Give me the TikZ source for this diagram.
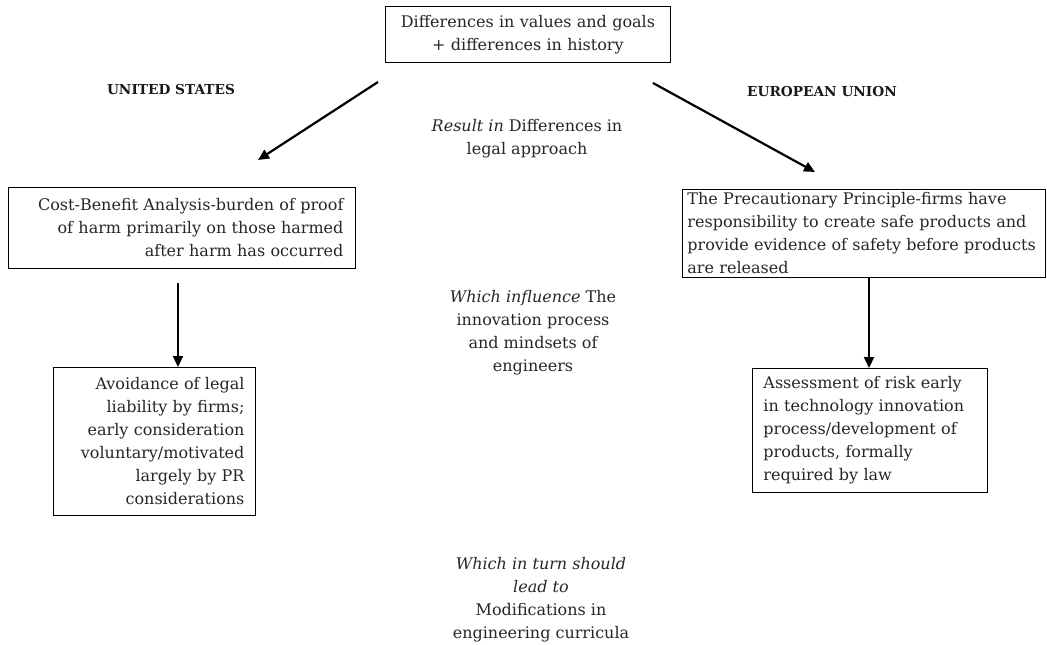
\documentclass[tikz,border=0pt]{standalone}
\usepackage{fontspec}
\setmainfont{DejaVu Serif}
\usetikzlibrary{arrows.meta}
\begin{document}
\begin{tikzpicture}[x=1pt,y=-1pt,
  txt/.style={font=\fontsize{16}{23}\selectfont, inner sep=0pt, text=black!85},
  box/.style={txt, draw=black, line width=0.9pt, anchor=north west},
  head/.style={font=\fontsize{13.7}{16}\selectfont\bfseries, inner sep=0pt, text=black!90},
  arr/.style={line width=2.2pt, -{Triangle[length=11pt,width=10pt]}},
]
\useasboundingbox (0,0) rectangle (1047,645);

% top box: shared origin
\node[box, align=center, minimum width=285pt, minimum height=56pt,
      text width=273pt, inner xsep=6pt] (top) at (385,6)
  {Differences in values and goals\\+ differences in history};

% column headers
\node[head] (us) at (171,90) {UNITED STATES};
\node[head] (eu) at (822,92) {EUROPEAN UNION};

% legal approach boxes
\node[box, align=right, minimum width=347pt, minimum height=81pt,
      text width=323pt, inner xsep=12pt] (lb1) at (8,187)
  {Cost-Benefit Analysis-burden of proof\\of harm primarily on those harmed\\after harm has occurred};
\node[box, align=left, minimum width=363pt, minimum height=88pt,
      text width=353pt, inner xsep=5pt] (rb1) at (682,189)
  {The Precautionary Principle-firms have\\responsibility to create safe products and\\provide evidence of safety before products\\are released};

% consequence boxes
\node[box, align=right, minimum width=202pt, minimum height=148pt,
      text width=180pt, inner xsep=11pt] (lb2) at (53,367)
  {Avoidance of legal\\liability by firms;\\early consideration\\voluntary/motivated\\largely by PR\\considerations};
\node[box, align=left, minimum width=235pt, minimum height=124pt,
      text width=213pt, inner xsep=11pt] (rb2) at (752,368)
  {Assessment of risk early\\in technology innovation\\process/development of\\products, formally\\required by law};

% central captions
\node[txt, align=center] (cap1) at (527,139)
  {\textit{Result in} Differences in\\legal approach};
\node[txt, align=center] (cap2) at (533,333)
  {\textit{Which influence} The\\innovation process\\and mindsets of\\engineers};
\node[txt, align=center] (cap3) at (541,600)
  {\textit{Which in turn should}\\\textit{lead to}\\Modifications in\\engineering curricula};

% connectors
\coordinate (usfrom) at (378,82);
\coordinate (ustip) at (258,160);
\coordinate (eufrom) at (653,83);
\coordinate (eutip) at (815,172);
\draw[arr] (usfrom) -- (ustip);
\draw[arr] (eufrom) -- (eutip);

\coordinate (usv) at (178,283);
\coordinate (euv) at (869,277);
\draw[arr] (usv) -- (usv |- lb2.north);
\draw[arr] (euv) -- (euv |- rb2.north);
\end{tikzpicture}
\end{document}
